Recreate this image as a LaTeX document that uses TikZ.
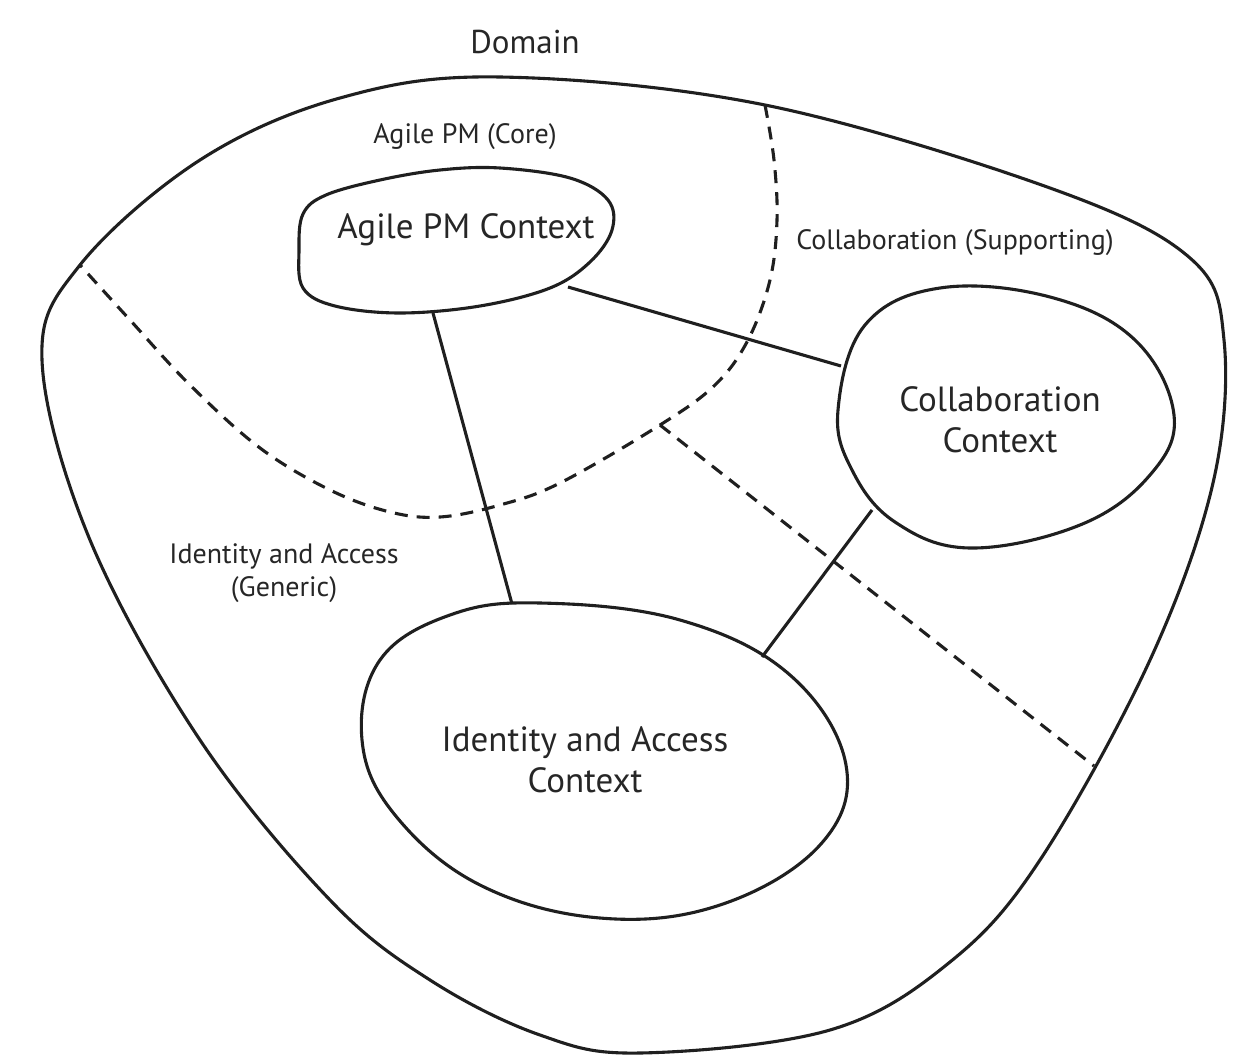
\documentclass[tikz,border=0pt]{standalone}
\usepackage{fontspec}
\setmainfont{PT Sans}
\begin{document}
\begin{tikzpicture}[x=1pt,y=-1pt,
  outline/.style={draw=black!88,line width=3.1pt,line join=round},
  sep/.style={draw=black!88,line width=3.1pt,dash pattern=on 13pt off 9pt},
  link/.style={draw=black!88,line width=3.1pt},
  biglbl/.style={text=black!85,font=\fontsize{35}{41}\selectfont,align=center,inner sep=0pt},
  smalllbl/.style={text=black!85,font=\fontsize{28}{33}\selectfont,align=center,inner sep=0pt},
  domlbl/.style={text=black!85,font=\fontsize{33}{36}\selectfont,inner sep=0pt}]
\useasboundingbox (0,0) rectangle (1234,1060);
% domain outline
\draw[outline] plot[smooth cycle,tension=0.6] coordinates {
 (500,77) (765,105) (1050,188) (1190,258) (1224,340) (1213,483) (1150,660)
 (1040,860) (950,962) (830,1030) (640,1053) (540,1035) (430,980) (330,900) (200,740)
 (90,540) (42,360) (80,265) (200,160) (340,98)};
% subdomain boundaries
\draw[sep] plot[smooth,tension=0.6] coordinates {
 (765,105) (774,160) (777,220) (770,280) (748,340) (715,385) (660,425)
 (560,483) (500,505) (440,517) (390,512) (330,490) (260,448) (190,385) (130,320) (80,265)};
\coordinate (j) at (660,425);
\coordinate (e) at (1094,766);
\draw[sep] (j) -- (e);
% bounded contexts
\draw[outline] plot[smooth cycle,tension=0.6] coordinates {
 (303,214) (326,195) (380,180) (440,170) (500,168) (570,178) (608,200) (612,230) (590,262)
 (550,288) (480,306) (400,313) (335,306) (303,288) (299,250)};
\draw[outline] plot[smooth cycle,tension=0.65] coordinates {
 (838,410) (865,325) (940,288) (1050,297) (1135,340) (1174,415) (1150,475)
 (1080,525) (970,548) (895,522) (852,470)};
\draw[outline] plot[smooth cycle,tension=0.65] coordinates {
 (362,740) (380,660) (450,615) (540,603) (680,620) (790,675) (846,765)
 (820,845) (720,905) (600,918) (480,885) (395,815)};
% connector ends
\coordinate (aS) at (433,313);
\coordinate (aE) at (568,287);
\coordinate (cW) at (841,366);
\coordinate (cS) at (872,510);
\coordinate (iN) at (512,604);
\coordinate (iE) at (762,657);
\draw[link] (aS) -- (iN);
\draw[link] (aE) -- (cW);
\draw[link] (cS) -- (iE);
% labels
\node[domlbl] (dom) at (525,42) {Domain};
\node[smalllbl] (core) at (465,137) {Agile PM (Core)};
\node[smalllbl] (supp) at (955,243) {Collaboration (Supporting)};
\node[smalllbl] (gen) at (284,573) {Identity and Access\\(Generic)};
\node[biglbl] (agile) at (466,230) {Agile PM Context};
\node[biglbl] (collab) at (1000,420) {Collaboration\\Context};
\node[biglbl] (ident) at (585,760) {Identity and Access\\Context};
\end{tikzpicture}
\end{document}
